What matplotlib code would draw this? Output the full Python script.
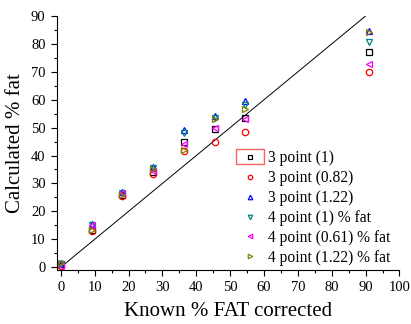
import numpy as np
import matplotlib
matplotlib.use("Agg")
import matplotlib.pyplot as plt
from matplotlib.patches import Rectangle
from matplotlib.ticker import MultipleLocator

plt.rcParams['font.family'] = ['Liberation Serif', 'DejaVu Serif']

# known % fat (corrected)
known = [0, 9.1, 18.2, 27.3, 36.4, 45.5, 54.5, 90.9]

# calculated % fat for each calibration
p3_1 = [1.0, 13.5, 26.0, 34.0, 45.0, 49.5, 53.5, 77.0]
p3_082 = [0.5, 13.0, 25.5, 33.5, 41.5, 45.0, 48.5, 70.0]
p3_122 = [1.5, 15.5, 27.0, 36.0, 49.0, 54.3, 59.4, 84.5]
p4_1 = [1.0, 15.0, 26.5, 35.5, 48.0, 53.5, 58.0, 80.7]
p4_061 = [0.5, 15.0, 26.5, 34.5, 44.0, 50.0, 53.0, 72.8]
p4_122 = [1.5, 13.5, 26.0, 35.0, 42.0, 53.0, 56.8, 84.3]

labels = ["3 point (1)", "3 point (0.82)", "3 point (1.22)",
          "4 point (1) % fat", "4 point (0.61) % fat", "4 point (1.22) % fat"]
series = [p3_1, p3_082, p3_122, p4_1, p4_061, p4_122]
markers = ["s", "o", "^", "v", "<", ">"]
colors = ["black", "red", "blue", "#008080", "magenta", "#808000"]

fig = plt.figure(figsize=(4.11, 3.24), dpi=100)
ax = fig.add_axes([0.138, 0.1667, 0.834, 0.784])

# identity line
ax.plot([0, 90], [0, 90], color="black", lw=0.7)

for y, m, c, lab in zip(series, markers, colors, labels):
    ax.plot(known, y, linestyle="none", marker=m, mfc="none", mec=c,
            ms=4.6, mew=0.9, label=lab)

ax.set_xlim(-1.2, 100)
ax.set_ylim(-1, 90)
ax.xaxis.set_major_locator(MultipleLocator(10))
ax.xaxis.set_minor_locator(MultipleLocator(5))
ax.yaxis.set_major_locator(MultipleLocator(10))
ax.yaxis.set_minor_locator(MultipleLocator(5))
ax.tick_params(which="both", direction="out", labelsize=10.5, width=0.8)
ax.tick_params(which="major", length=4.5)
ax.tick_params(which="minor", length=2.5)
ax.spines["top"].set_visible(False)
ax.spines["right"].set_visible(False)

ax.set_xlabel("Known % FAT corrected", fontsize=15, labelpad=6)
ax.set_ylabel("Calculated % fat", fontsize=15, labelpad=4)

leg = ax.legend(loc="upper left", bbox_to_anchor=(0.495, 0.514), frameon=False,
                fontsize=11.2, markerscale=0.7, handlelength=1.6,
                handletextpad=0.4, labelspacing=0.25, borderpad=0.2)

# red selection box around first legend symbol
fig.canvas.draw()
bb = leg.legend_handles[0].get_window_extent().transformed(fig.transFigure.inverted())
cx = (bb.x0 + bb.x1) / 2
cy = (bb.y0 + bb.y1) / 2
fig.patches.append(Rectangle((cx - 14 / 411, cy - 7.5 / 324), 28 / 411, 15 / 324,
                             transform=fig.transFigure, fill=False,
                             edgecolor="#ff6060", lw=1.0))

fig.savefig("out.png", dpi=100)
